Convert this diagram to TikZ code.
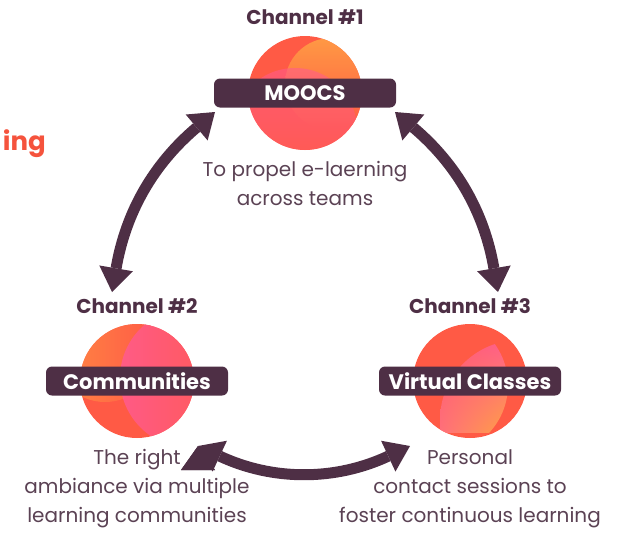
\documentclass[tikz,border=0pt]{standalone}
\usepackage{fontspec}
\setmainfont{Poppins}
\usetikzlibrary{positioning,arrows.meta,shadings}
\definecolor{plum}{HTML}{4E2F45}
\definecolor{txtplum}{HTML}{5B4254}
\definecolor{coral}{HTML}{FF5A45}
\definecolor{peach}{HTML}{FFA044}
\definecolor{rosepink}{HTML}{FF5A92}
\definecolor{inkred}{HTML}{F5533D}

\begin{document}
\begin{tikzpicture}[x=1pt,y=-1pt,
    ball/.style={circle,fill=coral,minimum size=114pt,inner sep=0pt},
    tag/.style={fill=plum,rounded corners=6pt,text=white,
      font=\fontsize{21}{24}\selectfont\bfseries,
      minimum width=182pt,minimum height=29pt,inner sep=0pt},
    chan/.style={text=plum,font=\fontsize{20}{24}\selectfont\bfseries,inner sep=0pt},
    desc/.style={text=txtplum,font=\fontsize{20}{29}\selectfont,align=center,inner sep=0pt},
    twoway/.style={draw,color=plum,line width=11pt,
      {Triangle[width=34pt,length=24pt,line width=0pt,fill=plum]}-{Triangle[width=34pt,length=24pt,line width=0pt,fill=plum]}}]
  \useasboundingbox (0,0) rectangle (634,533);

  \node[font=\fontsize{26}{30}\selectfont\bfseries,text=inkred,anchor=base east,inner sep=0pt,name=cut] at (46,150) {ing};

  % the three channels
  \node[ball,name=c1] at (305,93) {};
  \node[ball,name=c2] at (137,381) {};
  \node[ball,name=c3] at (470,381) {};

  \begin{scope}
    \clip (c1) circle (57);
    \shade[top color=peach,bottom color=coral,opacity=.9] (331,84) circle (46);
    \shade[top color=rosepink,bottom color=coral,middle color=rosepink!60!coral,opacity=.55] (295,130) circle (62);
  \end{scope}
  \begin{scope}
    \clip (c2) circle (57);
    \shade[left color=peach,right color=coral,opacity=.7] (105,350) circle (52);
    \shade[left color=rosepink,right color=coral,opacity=.85] (190,378) circle (70);
  \end{scope}
  \begin{scope}
    \clip (c3) circle (57);
    \clip (438,385) circle (70);
    \clip (520,420) circle (80);
    \shade[upper left=rosepink!50!coral,upper right=rosepink,lower left=rosepink!70!peach,lower right=peach] (440,335) rectangle (508,432);
  \end{scope}

  \node[tag,name=m1] at (c1) {MOOCS};
  \node[tag,name=m2] at (c2) {Communities};
  \node[tag,name=m3] at (c3) {Virtual Classes};

  \node[chan,name=h1,above=11pt of c1] {Channel \#1};
  \node[chan,name=h2,above=10pt of c2] {Channel \#2};
  \node[chan,name=h3,above=10pt of c3] {Channel \#3};

  \node[desc,name=d1,below=11pt of c1] {To propel e-laerning\\across teams};
  \node[desc,name=d2,below=11pt of c2] {The right\\ambiance via multiple\\learning communities};
  \node[desc,name=d3,below=11pt of c3] {Personal\\contact sessions to\\foster continuous learning};

  % arrow ends
  \coordinate (a1) at (215,112);
  \coordinate (a2) at (112,292);
  \coordinate (b1) at (395,112);
  \coordinate (b2) at (498,292);
  \coordinate (e1) at (198,446);
  \coordinate (e2) at (410,446);

  \path[twoway]
     (a1) edge[bend right=20] (a2)
     (b1) edge[bend left=20]  (b2)
     (e1) edge[bend right=25] (e2);
\end{tikzpicture}
\end{document}
